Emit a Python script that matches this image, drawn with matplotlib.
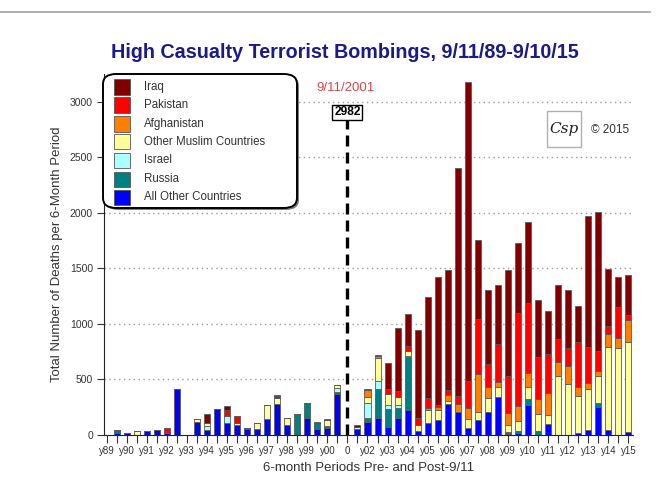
import matplotlib
matplotlib.use("Agg")
import matplotlib.pyplot as plt
import numpy as np
from matplotlib.patches import FancyBboxPatch, Rectangle

plt.rcParams['font.family'] = ['Liberation Sans', 'DejaVu Sans']

# ---------------- data (deaths per 6-month period) ----------------
series_names = ["Iraq", "Pakistan", "Afghanistan", "Other Muslim Countries",
                "Israel", "Russia", "All Other Countries"]
series_colors = ["#800000", "#ff0000", "#ff8000", "#ffff99",
                 "#aaffff", "#008080", "#0000ff"]

# pre-9/11 periods (24) and post-9/11 periods (28); a gap slot sits between them
all_other_pre = [0, 22, 22, 0, 36, 45, 20, 410, 0, 120, 45, 230, 110, 90, 58, 50, 143, 278, 89, 0, 149, 50, 66, 366]
all_other_post = [52, 119, 152, 68, 155, 223, 36, 104, 134, 283, 210, 60, 135, 210, 345, 12, 21, 270, 0, 96, 0, 0, 15, 45, 255, 45, 0, 30]

russia_pre = [0, 23, 0, 0, 0, 0, 0, 0, 0, 0, 0, 0, 0, 0, 8, 0, 0, 5, 0, 185, 137, 54, 12, 23]
russia_post = [0, 36, 265, 170, 89, 476, 0, 0, 0, 0, 0, 0, 0, 0, 0, 12, 18, 54, 36, 0, 0, 0, 0, 0, 30, 0, 0, 0]

israel_pre = [0, 0, 0, 0, 0, 0, 0, 0, 0, 0, 40, 0, 60, 0, 0, 0, 0, 0, 0, 0, 0, 0, 0, 33]
israel_post = [20, 137, 70, 36, 24, 15, 0, 0, 0, 0, 0, 0, 0, 0, 0, 0, 0, 0, 0, 0, 0, 0, 0, 0, 0, 0, 0, 0]

other_muslim_pre = [0, 0, 0, 36, 0, 0, 0, 0, 0, 20, 20, 0, 0, 15, 0, 54, 125, 50, 60, 0, 0, 0, 54, 25]
other_muslim_post = [0, 51, 210, 92, 74, 45, 54, 119, 89, 21, 0, 85, 75, 120, 84, 66, 87, 105, 150, 84, 531, 459, 336, 366, 246, 744, 780, 810]

afghanistan_pre = [0] * 24
afghanistan_post = [0, 60, 10, 0, 0, 0, 0, 21, 30, 60, 69, 100, 336, 105, 51, 105, 135, 126, 135, 195, 129, 162, 78, 54, 48, 120, 90, 195]

pakistan_pre = [0, 0, 0, 0, 0, 0, 40, 0, 0, 0, 0, 0, 54, 65, 0, 0, 0, 22, 0, 0, 0, 0, 6, 0]
pakistan_post = [0, 0, 0, 51, 51, 45, 60, 89, 21, 45, 72, 237, 495, 204, 339, 336, 840, 636, 378, 354, 204, 159, 405, 330, 180, 72, 279, 45]

iraq_pre = [0, 0, 0, 0, 0, 0, 0, 0, 0, 0, 80, 0, 36, 0, 0, 0, 0, 8, 0, 0, 0, 15, 10, 0]
iraq_post = [15, 15, 15, 232, 566, 283, 795, 908, 1149, 1075, 2055, 2692, 714, 666, 531, 954, 624, 723, 516, 387, 486, 525, 330, 1176, 1251, 510, 270, 360]

tick_labels = ["y89", "y90", "y91", "y92", "y93", "y94", "y95", "y96", "y97", "y98",
               "y99", "y00", "0", "y02", "y03", "y04", "y05", "y06", "y07", "y08",
               "y09", "y10", "y11", "y12", "y13", "y14", "y15"]
sept11_total = 2982

def joined(pre, post):
    return np.array(pre + [0] + post, dtype=float)

stack_bottom_up = [
    ("All Other Countries", joined(all_other_pre, all_other_post)),
    ("Russia", joined(russia_pre, russia_post)),
    ("Israel", joined(israel_pre, israel_post)),
    ("Other Muslim Countries", joined(other_muslim_pre, other_muslim_post)),
    ("Afghanistan", joined(afghanistan_pre, afghanistan_post)),
    ("Pakistan", joined(pakistan_pre, pakistan_post)),
    ("Iraq", joined(iraq_pre, iraq_post)),
]
color_of = dict(zip(series_names, series_colors))
n = len(stack_bottom_up[0][1])
x = np.arange(n)
gap_slot = len(iraq_pre)

# ---------------- figure ----------------
W, H = 662, 500
fig = plt.figure(figsize=(W / 100, H / 100), dpi=100)
fig.patch.set_facecolor("white")

def fx(px):
    return px / W

def fy(py):
    return 1 - py / H

ax = fig.add_axes([fx(104), fy(435), fx(633) - fx(104), fy(74) - fy(435)])
ax.set_xlim(-0.25, 52.45)
ax.set_ylim(0, 3250)

for v in range(500, 3001, 500):
    ax.axhline(v, color="#9a9a9a", lw=1.0, ls=(0, (1, 2.5)), zorder=0)

bottom = np.zeros(n)
for name, vals in stack_bottom_up:
    ax.bar(x, vals, width=0.6, bottom=bottom, color=color_of[name],
           edgecolor="#5a5a5a", linewidth=0.6, zorder=2)
    bottom += vals

# 9/11 marker
ax.plot([gap_slot, gap_slot], [0, 2835], color="black", lw=2.4,
        ls=(0, (3.3, 1.8)), zorder=3)
ax.text(gap_slot, 2905, str(sept11_total), ha="center", va="center",
        fontsize=8.6, fontweight="bold", color="black", zorder=4,
        bbox=dict(boxstyle="square,pad=0.15", fc="white", ec="black", lw=1))
ax.text(gap_slot - 0.2, 3120, "9/11/2001", ha="center", va="center",
        fontsize=9.5, color="#d04848", zorder=4)

for s in ["top", "right"]:
    ax.spines[s].set_visible(False)
ax.spines["left"].set_color("#222222")
ax.spines["bottom"].set_color("#222222")

ax.set_yticks(range(0, 3001, 500))
ax.set_yticklabels([str(v) for v in range(0, 3001, 500)], fontsize=7.5, color="#333333")
ax.set_xticks(x[::2])
ax.set_xticks(x, minor=True)
ax.set_xticklabels(tick_labels, fontsize=7, color="#333333")
ax.tick_params(axis="x", which="both", length=6, width=0.8, color="#333333", pad=2)
ax.tick_params(axis="y", length=5, width=0.8, color="#333333", pad=3)

ax.set_ylabel("Total Number of Deaths per 6-Month Period", fontsize=9.5,
              color="#333333", labelpad=5)
ax.set_xlabel("6-month Periods Pre- and Post-9/11", fontsize=9.5,
              color="#333333", labelpad=4)

fig.text(fx(345), fy(52), "High Casualty Terrorist Bombings, 9/11/89-9/10/15",
         ha="center", va="center", fontsize=14.2, fontweight="bold", color="#1a1a8a")

# legend box (with a soft shadow)
shadow = FancyBboxPatch((fx(105), fy(210)), fx(297) - fx(103), fy(74) - fy(208),
                        boxstyle="round,pad=0,rounding_size=0.02",
                        transform=fig.transFigure, fc="#808080", ec="none",
                        zorder=4)
fig.patches.append(shadow)
lg = FancyBboxPatch((fx(103), fy(208)), fx(297) - fx(103), fy(74) - fy(208),
                    boxstyle="round,pad=0,rounding_size=0.02",
                    transform=fig.transFigure, fc="white", ec="black", lw=1.4,
                    zorder=5)
fig.patches.append(lg)
row_y = [87, 105, 124, 142, 160, 179, 197]
for i, name in enumerate(series_names):
    fig.patches.append(Rectangle((fx(114), fy(row_y[i] + 7.5)), fx(16), 15 / H,
                                 transform=fig.transFigure, fc=color_of[name],
                                 ec="#555555", lw=0.6, zorder=6))
    fig.text(fx(144), fy(row_y[i]), name, ha="left", va="center",
             fontsize=8.3, color="#333333", zorder=7)

# CSP logo and copyright
fig.patches.append(Rectangle((fx(547), fy(147)), fx(34), 36 / H,
                             transform=fig.transFigure, fc="white",
                             ec="#b0b0b0", lw=1.0, zorder=6))
fig.text(fx(564), fy(129), "Csp", fontsize=11, style="italic", family="DejaVu Serif",
         ha="center", va="center", color="#222222", zorder=8)
fig.text(fx(610), fy(130), "© 2015", fontsize=8.5, ha="center", va="center",
         color="#333333", zorder=8)

# outer frame line
fig.add_artist(plt.Line2D([0, fx(650)], [fy(12), fy(12)], transform=fig.transFigure,
                          color="#a0a0a0", lw=1.2))

fig.savefig("out.png", dpi=100)
